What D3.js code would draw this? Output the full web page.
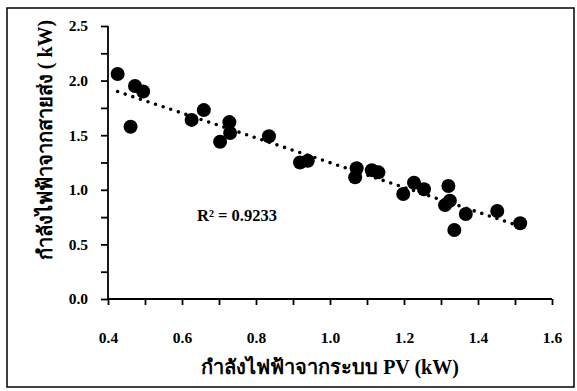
<!DOCTYPE html>
<html>
<head>
  <meta charset='utf-8' />
  <title>PV vs grid power</title>
  <style>
    body { margin: 0; background: #fff; }
    svg text { font-family: 'Liberation Serif', 'Times New Roman', serif; font-weight: bold; fill: #000; }
  </style>
</head>
<body>
  <div id="wrapper"></div>

<script src='https://d3js.org/d3.v7.min.js' charset='utf-8'></script>
<script>
  // values
  const pvPower = [0.426, 0.473, 0.495, 0.461, 0.626, 0.659, 0.703, 0.728, 0.73, 0.835,
                   0.919, 0.94, 1.072, 1.068, 1.113, 1.131, 1.198, 1.227, 1.254, 1.32,
                   1.324, 1.311, 1.367, 1.336, 1.452, 1.514]
  const gridPower = [2.06, 1.95, 1.90, 1.578, 1.64, 1.73, 1.44, 1.62, 1.52, 1.49,
                     1.25, 1.265, 1.197, 1.114, 1.18, 1.16, 0.962, 1.065, 1.005, 1.035,
                     0.90, 0.86, 0.778, 0.632, 0.806, 0.693]
  const xTicks = [0.4, 0.6, 0.8, 1.0, 1.2, 1.4, 1.6]
  const yTicks = [0.0, 0.5, 1.0, 1.5, 2.0, 2.5]
  const r2Label = 'R² = 0.9233'
  const xTitle = 'กำลังไฟฟ้าจากระบบ PV (kW)'
  const yTitle = 'กำลังไฟฟ้าจากสายส่ง ( kW)'

  const points = pvPower.map((x, i) => ({ x: x, y: gridPower[i] }))

  const width = 577
  const height = 391

  const svg = d3.select('#wrapper')
    .append('svg')
      .attr('width', width)
      .attr('height', height)

  // outer frame
  svg.append('rect')
    .attr('x', 7)
    .attr('y', 8)
    .attr('width', 567)
    .attr('height', 379)
    .attr('fill', 'none')
    .attr('stroke', '#000')
    .attr('stroke-width', 1.5)

  const x = d3.scaleLinear().domain([0.4, 1.6]).range([108, 552])
  const y = d3.scaleLinear().domain([0, 2.5]).range([299, 26])

  // x axis: minor ticks every 0.1, labels on the 0.2 steps
  const xAxis = d3.axisBottom(x)
    .tickValues(d3.range(0, 13).map(i => 0.4 + i * 0.1))
    .tickSize(6)
    .tickFormat(d => xTicks.some(t => Math.abs(t - d) < 1e-6) ? d3.format('.1f')(d) : '')

  const gx = svg.append('g')
    .attr('transform', `translate(0, ${y(0)})`)
    .call(xAxis)
  gx.select('.domain').attr('stroke-width', 1.8).attr('d', `M${x(0.4)},0H${x(1.6)}`)
  gx.selectAll('.tick line').attr('stroke-width', 1.8)
  gx.selectAll('.tick text')
    .attr('y', 39)
    .attr('dy', '0.32em')
    .style('font-size', '15.5px')

  // y axis: minor ticks every 0.25
  const yAxis = d3.axisLeft(y)
    .tickValues(d3.range(0, 11).map(i => i * 0.25))
    .tickSize(7)
    .tickFormat(d => yTicks.some(t => Math.abs(t - d) < 1e-6) ? d3.format('.1f')(d) : '')

  const gy = svg.append('g')
    .attr('transform', `translate(${x(0.4)}, 0)`)
    .call(yAxis)
  gy.select('.domain').attr('stroke-width', 1.8).attr('d', `M0,${y(0)}V${y(2.5)}`)
  gy.selectAll('.tick line').attr('stroke-width', 1.8)
  gy.selectAll('.tick text')
    .attr('x', -20)
    .style('font-size', '15.5px')

  // least squares trend line
  const mx = d3.mean(points, d => d.x)
  const my = d3.mean(points, d => d.y)
  const slope = d3.sum(points, d => (d.x - mx) * (d.y - my)) / d3.sum(points, d => (d.x - mx) ** 2)
  const icept = my - slope * mx
  const xExt = d3.extent(pvPower)

  svg.append('line')
    .attr('x1', x(xExt[0]))
    .attr('y1', y(icept + slope * xExt[0]))
    .attr('x2', x(xExt[1]))
    .attr('y2', y(icept + slope * xExt[1]))
    .attr('stroke', '#000')
    .attr('stroke-width', 3.6)
    .attr('stroke-linecap', 'round')
    .attr('stroke-dasharray', '0 8')

  svg.selectAll('circle')
    .data(points)
    .enter()
    .append('circle')
      .attr('cx', d => x(d.x))
      .attr('cy', d => y(d.y))
      .attr('r', 7)
      .attr('fill', '#000')

  svg.append('text')
    .attr('x', 197)
    .attr('y', 221)
    .style('font-size', '16.5px')
    .text(r2Label)

  svg.append('text')
    .attr('x', (x(0.4) + x(1.6)) / 2)
    .attr('y', 374)
    .attr('text-anchor', 'middle')
    .style('font-size', '20px')
    .text(xTitle)

  svg.append('text')
    .attr('transform', `translate(52, 140) rotate(-90)`)
    .attr('text-anchor', 'middle')
    .style('font-size', '20px')
    .text(yTitle)
</script>
</body>
</html>
